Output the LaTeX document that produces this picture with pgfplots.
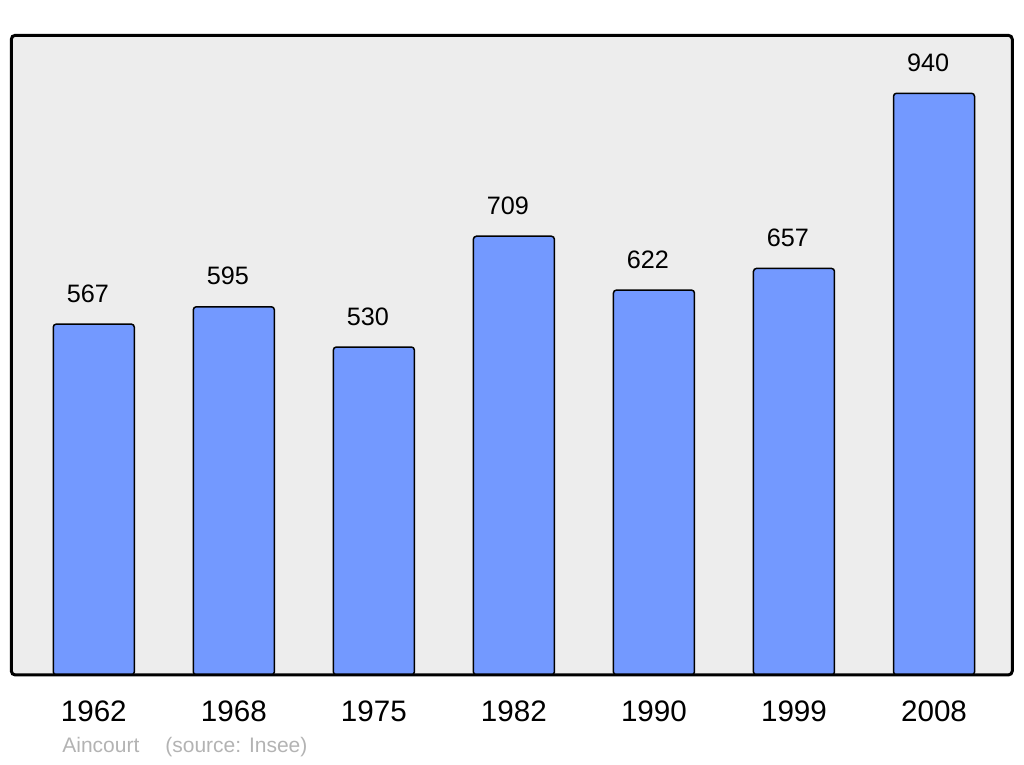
\documentclass[border=0pt]{standalone}
\usepackage{fontspec}
\setmainfont{Liberation Sans}
\usepackage{pgfplots}
\pgfplotsset{compat=1.18}
\definecolor{barblue}{RGB}{115,153,255}
\definecolor{bggray}{RGB}{237,237,237}
\definecolor{srcgray}{RGB}{179,179,179}

\begin{document}
\begin{tikzpicture}
\begin{axis}[
  scale only axis,
  width=500.5pt,
  height=319.85pt,
  xmin=-0.589, xmax=6.559,
  ymin=0, ymax=1033.7,
  axis line style={draw=none},
  axis background/.style={fill=bggray},
  ytick=\empty,
  xtick=data,
  xticklabels={1962,1968,1975,1982,1990,1999,2008},
  major tick length=0pt,
  xticklabel style={font=\fontsize{14.8}{16}\selectfont, anchor=base, yshift=-23.5pt},
  /pgf/number format/assume math mode=true,
  ybar,
  bar width=40.5pt,
  nodes near coords,
  every node near coord/.append style={font=\fontsize{12.6}{14}\selectfont, anchor=base, yshift=11pt, xshift=-3pt, black},
  clip=false,
]
\addplot[fill=barblue, draw=black, line width=0.75pt, rounded corners=1.5pt] coordinates {
  (0,567) (1,595) (2,530) (3,709) (4,622) (5,657) (6,940)
};
\draw[line width=1.5pt, rounded corners=2pt] (rel axis cs:0,0) rectangle (rel axis cs:1,1);
\end{axis}
\node[anchor=base west, inner sep=0pt, text=srcgray, font=\fontsize{10.5}{12}\selectfont] at (25.35pt,-39pt) {Aincourt};
\node[anchor=base west, inner sep=0pt, text=srcgray, font=\fontsize{10.5}{12}\selectfont] at (76.85pt,-39pt) {(source: Insee)};
\path[use as bounding box] (-5.65pt,-45pt) rectangle (506.35pt,337.5pt);
\end{tikzpicture}
\end{document}
